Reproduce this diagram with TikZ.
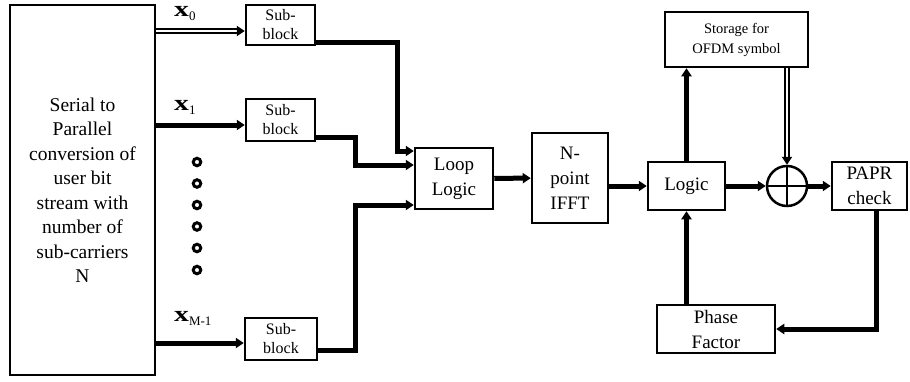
\documentclass[tikz,border=0pt]{standalone}
\usepackage{fontspec}
\setmainfont{Liberation Serif}
\usetikzlibrary{arrows.meta}
\begin{document}
\begin{tikzpicture}[x=1pt,y=-1pt,
  box/.style={draw,line width=2.5pt,rectangle,align=center,inner sep=0pt},
  conn/.style={line width=5pt,line join=miter},
  arr/.style={conn,-{Triangle[length=8pt,width=10pt]}},
  dbl/.style={draw,double,double distance=1.2pt,line width=2pt,-{Triangle[length=8pt,width=10pt]}},
  lbl/.style={inner sep=0pt,font=\fontsize{22}{22}\selectfont}]
\useasboundingbox (0,0) rectangle (910,381);
% blocks
\node[box,minimum width=145pt,minimum height=370pt,font=\fontsize{19.5}{24.5}\selectfont] (ser) at (82.5,190)
  {Serial to\\Parallel\\conversion of\\user bit\\stream with\\number of\\sub-carriers\\N};
\node[box,minimum width=69pt,minimum height=40pt,font=\fontsize{16}{19}\selectfont] (sb0) at (280.5,25) {Sub-\\block};
\node[box,minimum width=69pt,minimum height=42pt,font=\fontsize{16}{19}\selectfont] (sb1) at (280.5,120) {Sub-\\block};
\node[box,minimum width=72pt,minimum height=42pt,font=\fontsize{16}{19}\selectfont] (sb2) at (281,339) {Sub-\\block};
\node[box,minimum width=78pt,minimum height=61pt,font=\fontsize{19}{25}\selectfont] (loop) at (454,178.5) {Loop\\Logic};
\node[box,minimum width=76pt,minimum height=90pt,font=\fontsize{19}{25}\selectfont] (ifft) at (570,178) {N-\\point\\IFFT};
\node[box,minimum width=77pt,minimum height=48pt,font=\fontsize{19}{25}\selectfont] (logic) at (686.5,186) {Logic};
\node[box,minimum width=143pt,minimum height=55pt,font=\fontsize{14.5}{20}\selectfont] (stor) at (736.5,39.5) {Storage for\\OFDM symbol};
\node[draw,circle,line width=2.5pt,minimum size=40pt,inner sep=0pt] (xor) at (787,186) {};
\draw[line width=2.5pt] (xor.north) -- (xor.south) (xor.west) -- (xor.east);
\node[box,minimum width=75pt,minimum height=48pt,font=\fontsize{19}{25}\selectfont] (papr) at (869.5,186) {PAPR\\check};
\node[box,minimum width=118pt,minimum height=48pt,font=\fontsize{19}{25}\selectfont] (phase) at (716,329) {Phase\\Factor};
% labels
\node[lbl,anchor=base west] (l0) at (174,16) {\scalebox{1.35}[1]{\textbf{x}}\raisebox{-4pt}{\fontsize{13}{13}\selectfont 0}};
\node[lbl,anchor=base west] (l1) at (174,110) {\scalebox{1.35}[1]{\textbf{x}}\raisebox{-4pt}{\fontsize{13}{13}\selectfont 1}};
\node[lbl,anchor=base west] (l2) at (174,321) {\scalebox{1.35}[1]{\textbf{x}}\raisebox{-4pt}{\fontsize{13}{13}\selectfont M-1}};
% dots
\foreach \y [count=\i] in {162,183.5,205,226.5,248,270}
  \node[draw,circle,line width=3pt,minimum size=7.5pt,inner sep=0pt] (d\i) at (197,\y) {};
% coordinates
\coordinate (a0) at ([yshift=-6pt]sb0.west);
\coordinate (a1) at ([yshift=-5pt]sb1.west);
\coordinate (a2) at ([yshift=-4pt]sb2.west);
\coordinate (o0) at ([yshift=-17pt]sb0.east);
\coordinate (o1) at ([yshift=-17pt]sb1.east);
\coordinate (o2) at ([yshift=-11pt]sb2.east);
\coordinate (j0) at (397,42);
\coordinate (j1) at (355,137);
\coordinate (j2) at (355,350);
\coordinate (i0) at (loop.west |- 0,151);
\coordinate (i1) at (loop.west |- 0,165);
\coordinate (i2) at (loop.west |- 0,205);
\coordinate (ps) at ([xshift=7pt]papr.south);
\coordinate (pc) at (ps |- phase.east);
% connectors
\draw[dbl] (ser.east |- a0) -- (a0);
\draw[arr] (ser.east |- a1) -- (a1);
\draw[arr] (ser.east |- a2) -- (a2);
\draw[arr] (o0) -- (j0) -- (j0 |- i0) -- (i0);
\draw[arr] (o1) -- (j1) -- (j1 |- i1) -- (i1);
\draw[arr] (o2) -- (j2) -- (j2 |- i2) -- (i2);
\draw[arr] (loop) -- (ifft);
\draw[arr] (ifft.east |- logic) -- (logic);
\draw[arr] (logic) -- (xor);
\draw[arr] (xor) -- (papr);
\draw[arr] (logic.north) -- (logic.north |- stor.south);
\draw[dbl] (stor.south -| xor) -- (xor.north);
\draw[arr] (ps) -- (pc) -- (phase.east);
\draw[arr] (logic.south |- phase.north) -- (logic.south);
\end{tikzpicture}
\end{document}
